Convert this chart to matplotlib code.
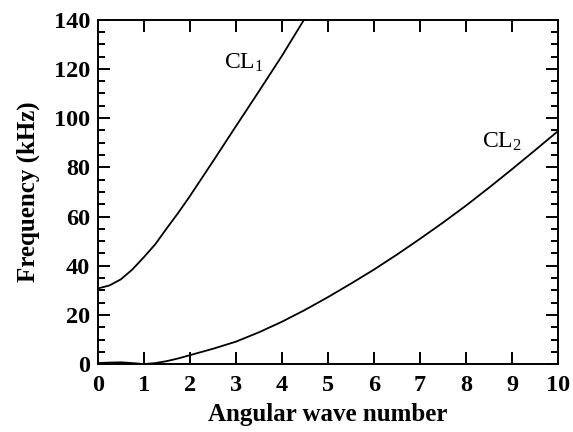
import matplotlib
matplotlib.use("Agg")
import matplotlib.pyplot as plt
from matplotlib.ticker import MultipleLocator

plt.rcParams["font.family"] = ["Liberation Serif", "DejaVu Serif"]
plt.rcParams["mathtext.fontset"] = "custom"
plt.rcParams["mathtext.rm"] = "Liberation Serif"
plt.rcParams["mathtext.it"] = "Liberation Serif:italic"

# dispersion curves
k_cl1 = [0.0, 0.25, 0.5, 0.75, 1.0, 1.25, 1.5, 1.75, 2.0, 2.5, 3.0, 3.5, 4.0, 4.5]
f_cl1 = [30.8, 32.0, 34.5, 38.5, 43.5, 48.8, 55.3, 61.6, 68.3, 82.4, 96.7, 110.9, 125.3, 140.6]

k_cl2 = [0.0, 0.25, 0.5, 0.75, 1.0, 1.25, 1.5, 1.75, 2.0, 2.5, 3.0, 3.5, 4.0, 4.5,
         5.0, 5.5, 6.0, 6.5, 7.0, 7.5, 8.0, 8.5, 9.0, 9.5, 10.0]
f_cl2 = [0.5, 0.7, 0.8, 0.5, 0.1, 0.5, 1.3, 2.4, 3.7, 6.3, 9.2, 13.0, 17.3, 22.1,
         27.3, 32.8, 38.5, 44.6, 51.0, 57.6, 64.5, 71.8, 79.3, 87.0, 94.8]

fig = plt.figure(figsize=(5.73, 4.32), dpi=100)
ax = fig.add_axes([0.1707, 0.1567, 0.8036, 0.798])

ax.plot(k_cl1, f_cl1, color="black", lw=1.3)
ax.plot(k_cl2, f_cl2, color="black", lw=1.3)

ax.text(2.75, 120.0, r"CL$_1$", fontsize=17, ha="left", va="baseline")
ax.text(8.35, 88.0, r"CL$_2$", fontsize=17, ha="left", va="baseline")

ax.set_xlim(0, 10)
ax.set_ylim(0, 140)
ax.xaxis.set_major_locator(MultipleLocator(1))
ax.yaxis.set_major_locator(MultipleLocator(20))
ax.yaxis.set_minor_locator(MultipleLocator(5))

ax.tick_params(which="both", direction="in", top=True, right=True, width=1.4)
ax.tick_params(which="major", length=8.5, pad=5.5, labelsize=17.5)
ax.tick_params(axis="x", which="major", pad=7.5)
ax.tick_params(which="minor", length=5)
for lbl in ax.get_xticklabels() + ax.get_yticklabels():
    lbl.set_fontweight("bold")
for sp in ax.spines.values():
    sp.set_linewidth(1.4)

ax.set_xlabel("Angular wave number", fontsize=18, fontweight="bold", labelpad=5)
ax.set_ylabel("Frequency (kHz)", fontsize=18, fontweight="bold", labelpad=10)

fig.savefig("out.png", dpi=100)
